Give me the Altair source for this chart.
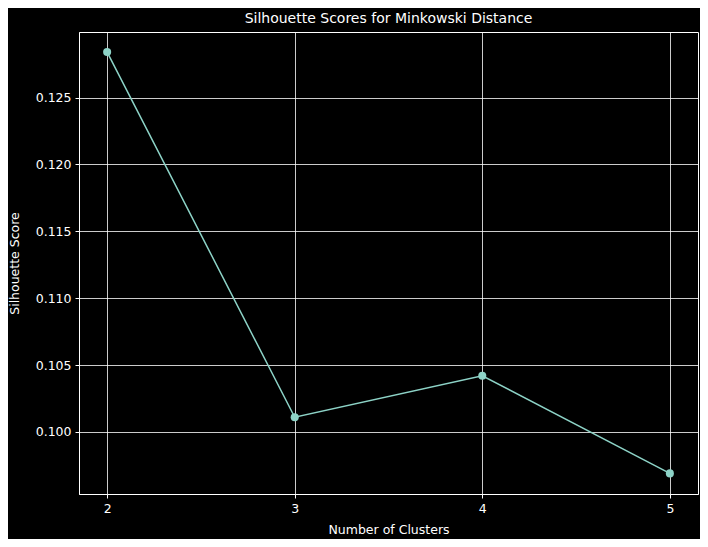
import altair as alt
import pandas as pd

clusters = [2, 3, 4, 5]
scores = [0.1284, 0.1011, 0.1042, 0.0969]

df = pd.DataFrame({"Clusters": clusters, "Score": scores})

font = "DejaVu Sans"

line = alt.Chart(df).mark_line(
    color="#8dd3c7", strokeWidth=1.5,
    point=alt.OverlayMarkDef(color="#8dd3c7", size=65, filled=True, opacity=1),
).encode(
    x=alt.X("Clusters:Q", title="Number of Clusters",
            scale=alt.Scale(domain=[1.85, 5.15], nice=False, zero=False),
            axis=alt.Axis(values=clusters, format="d", titlePadding=9)),
    y=alt.Y("Score:Q", title="Silhouette Score",
            scale=alt.Scale(domain=[0.09536, 0.1299], nice=False, zero=False),
            axis=alt.Axis(values=[0.100, 0.105, 0.110, 0.115, 0.120, 0.125], format=".3f",
                          titlePadding=14)),
)

chart = line.properties(
    width=619, height=462,
    title=alt.TitleParams("Silhouette Scores for Minkowski Distance", color="white",
                          font=font, fontSize=14, fontWeight="normal", offset=6),
    autosize=alt.AutoSizeParams(type="none"),
    padding={"left": 71, "top": 24, "right": 2, "bottom": 45},
    background="black",
).configure_view(
    stroke="white", strokeWidth=1, fill="black"
).configure_axis(
    grid=True, gridColor="white", gridOpacity=1, gridWidth=0.8,
    domainColor="white", tickColor="white", tickSize=4,
    labelColor="white", titleColor="white",
    labelFont=font, titleFont=font, labelFontSize=12.5, titleFontSize=12.5,
    titleFontWeight="normal", labelPadding=4,
)

chart.save("out.html", embed_options={"renderer": "svg", "actions": False})
